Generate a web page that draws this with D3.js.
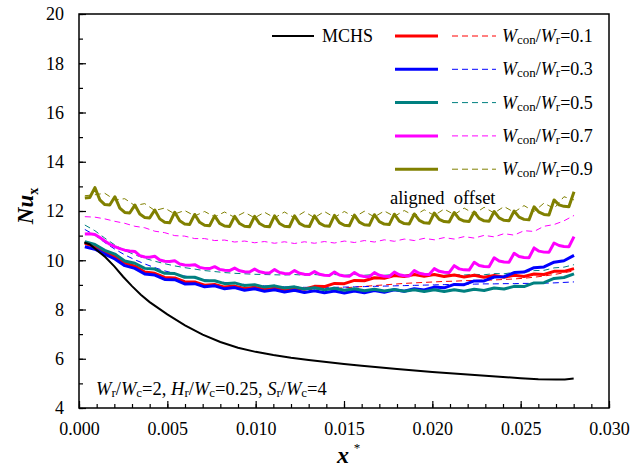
<!DOCTYPE html>
<html>
<head>
<meta charset="utf-8">
<script src="https://cdn.jsdelivr.net/npm/d3@7"></script>
<style>
  body { margin: 0; background: #fff; }
  svg text { font-family: 'Liberation Serif', 'Times New Roman', Times, 'DejaVu Serif', serif; }
</style>
</head>
<body>
<script>
// sample positions (x*) of the wavy curves
var xQ = [0.00033,0.00061,0.00090,0.00118,0.00146,0.00174,0.00203,0.00231,0.00259,0.00287,
  0.00316,0.00344,0.00372,0.00400,0.00429,0.00457,0.00485,0.00513,0.00542,0.00570,
  0.00598,0.00626,0.00655,0.00683,0.00711,0.00739,0.00768,0.00796,0.00824,0.00852,
  0.00881,0.00909,0.00937,0.00965,0.00994,0.01022,0.01050,0.01078,0.01107,0.01135,
  0.01163,0.01191,0.01220,0.01248,0.01276,0.01304,0.01333,0.01361,0.01389,0.01417,
  0.01446,0.01474,0.01502,0.01530,0.01559,0.01587,0.01615,0.01643,0.01672,0.01700,
  0.01728,0.01756,0.01785,0.01813,0.01841,0.01869,0.01898,0.01926,0.01954,0.01982,
  0.02011,0.02039,0.02067,0.02095,0.02124,0.02152,0.02180,0.02208,0.02237,0.02265,
  0.02293,0.02321,0.02350,0.02378,0.02406,0.02434,0.02463,0.02491,0.02519,0.02547,
  0.02576,0.02604,0.02632,0.02660,0.02689,0.02717,0.02745,0.02773,0.02802];
// every other point of xQ
var xH = xQ.filter(function(d, i) { return i % 2 == 0; });

// MCHS (smooth)
var xMchs = [0.0003,0.0006,0.001,0.0015,0.002,0.0025,0.003,0.0035,0.004,0.005,
  0.006,0.007,0.008,0.009,0.010,0.011,0.012,0.013,0.014,0.015,
  0.016,0.018,0.020,0.022,0.024,0.025,0.026,0.027,0.0275,0.028];
var nuMchs = [10.72,10.65,10.42,10.12,9.75,9.33,8.95,8.6,8.3,7.8,
  7.36,6.98,6.68,6.45,6.28,6.15,6.04,5.95,5.87,5.79,
  5.72,5.58,5.46,5.36,5.26,5.21,5.17,5.16,5.16,5.2];

// aligned (solid) Wcon/Wr = 0.9 and 0.7, on xQ
var alignOlive = [12.53,12.55,
  12.95,12.45,12.26,12.24, 12.58,12.12,11.94,11.92, 12.24,11.88,11.74,11.72,
  12.04,11.68,11.54,11.52, 11.95,11.60,11.47,11.45, 11.86,11.54,11.42,11.40,
  11.80,11.50,11.39,11.37, 11.78,11.49,11.38,11.36, 11.78,11.49,11.38,11.36,
  11.80,11.49,11.38,11.36, 11.80,11.50,11.39,11.37, 11.80,11.51,11.40,11.38,
  11.82,11.53,11.42,11.40, 11.83,11.55,11.44,11.42, 11.85,11.57,11.47,11.45,
  11.87,11.59,11.49,11.47, 11.88,11.62,11.52,11.50, 11.92,11.66,11.57,11.55,
  11.94,11.68,11.59,11.57, 11.96,11.70,11.60,11.58, 11.98,11.72,11.62,11.60,
  12.00,11.75,11.66,11.64, 12.17,11.95,11.86,11.84, 12.45,12.25,12.19,12.17,
  12.78];
var alignMagenta = [11.07,11.08,
  11.05,10.92,10.78,10.65, 10.55,10.47,10.41,10.38, 10.36,10.19,10.13,10.12,
  10.16,10.01,9.96,9.95, 9.98,9.85,9.81,9.80, 9.82,9.71,9.67,9.66,
  9.74,9.63,9.59,9.58, 9.68,9.57,9.53,9.52, 9.64,9.53,9.49,9.48,
  9.62,9.50,9.46,9.45, 9.58,9.47,9.43,9.42, 9.54,9.43,9.39,9.38,
  9.52,9.40,9.36,9.35, 9.50,9.38,9.34,9.33, 9.50,9.39,9.35,9.34,
  9.52,9.41,9.37,9.36, 9.58,9.47,9.43,9.42, 9.66,9.55,9.51,9.50,
  9.78,9.65,9.61,9.60, 9.92,9.79,9.75,9.74, 10.10,9.97,9.93,9.92,
  10.28,10.15,10.11,10.10, 10.50,10.37,10.33,10.32, 10.70,10.60,10.56,10.55,
  10.96];

// aligned (solid) Wcon/Wr = 0.1, 0.3, 0.5, on xH
var alignRed = [10.69,10.55,10.35,10.14,9.89,9.76,9.52,9.47,9.30,9.28,
  9.13,9.12,8.99,9.02,8.91,8.95,8.85,8.90,8.81,8.86,
  8.78,8.86,8.82,8.94,8.93,9.06,9.05,9.18,9.17,9.29,
  9.27,9.38,9.34,9.42,9.35,9.42,9.34,9.40,9.32,9.39,
  9.31,9.38,9.31,9.39,9.34,9.44,9.42,9.55,9.55,9.66];
var alignBlue = [10.55,10.45,10.25,10.05,9.78,9.67,9.44,9.40,9.22,9.21,
  9.04,9.05,8.92,8.96,8.84,8.89,8.78,8.84,8.74,8.80,
  8.71,8.78,8.69,8.76,8.68,8.75,8.67,8.75,8.68,8.77,
  8.70,8.80,8.74,8.84,8.79,8.91,8.88,9.02,9.01,9.16,
  9.16,9.32,9.33,9.50,9.52,9.70,9.73,9.92,9.98,10.20];
var alignTeal = [10.75,10.64,10.40,10.25,9.97,9.88,9.67,9.64,9.47,9.46,
  9.31,9.31,9.17,9.17,9.05,9.08,8.97,9.01,8.91,8.96,
  8.87,8.92,8.83,8.88,8.80,8.86,8.78,8.84,8.76,8.82,
  8.75,8.81,8.74,8.80,8.73,8.80,8.73,8.80,8.74,8.82,
  8.77,8.87,8.83,8.94,8.93,9.08,9.09,9.26,9.30,9.45];

// offset (dashed), on xH
var offRed = [10.72,10.55,10.30,10.08,9.88,9.70,9.55,9.42,9.32,9.22,
  9.13,9.06,9.00,8.95,8.91,8.88,8.85,8.83,8.81,8.80,
  8.80,8.80,8.81,8.82,8.84,8.86,8.88,8.91,8.94,8.97,
  9.00,9.03,9.06,9.08,9.10,9.12,9.14,9.15,9.17,9.18,
  9.19,9.20,9.22,9.24,9.27,9.31,9.36,9.42,9.49,9.57];
var offBlue = [11.25,11.02,10.72,10.45,10.22,10.02,9.85,9.70,9.57,9.46,
  9.36,9.28,9.21,9.15,9.10,9.06,9.02,8.99,8.96,8.94,
  8.92,8.91,8.90,8.90,8.90,8.90,8.91,8.92,8.93,8.94,
  8.95,8.96,8.97,8.98,8.99,9.00,9.01,9.02,9.03,9.03,
  9.04,9.04,9.05,9.05,9.06,9.06,9.07,9.08,9.10,9.12];
var offTeal = [11.43,11.20,10.90,10.62,10.40,10.22,10.08,9.96,9.86,9.77,
  9.70,9.64,9.58,9.54,9.50,9.47,9.45,9.43,9.42,9.41,
  9.40,9.42,9.39,9.42,9.39,9.42,9.39,9.42,9.39,9.42,
  9.39,9.42,9.39,9.42,9.39,9.42,9.39,9.42,9.40,9.43,
  9.41,9.46,9.45,9.51,9.50,9.58,9.59,9.69,9.72,9.82];
var offMagenta = [11.77,11.75,11.68,11.58,11.50,11.38,11.32,11.18,11.12,11.00,
  10.98,10.88,10.88,10.80,10.82,10.74,10.78,10.71,10.76,10.69,
  10.75,10.68,10.75,10.69,10.76,10.70,10.78,10.72,10.80,10.74,
  10.83,10.77,10.86,10.80,10.89,10.83,10.92,10.86,10.96,10.90,
  11.01,10.95,11.08,11.02,11.20,11.17,11.38,11.45,11.60,11.82];
var offOlive = [12.62,12.66,12.72,12.45,12.50,12.22,12.30,12.02,12.12,11.88,
  12.02,11.80,11.98,11.76,11.96,11.74,11.95,11.72,11.95,11.72,
  11.96,11.72,11.97,11.73,11.98,11.74,11.98,11.75,11.99,11.76,
  12.00,11.78,12.02,11.80,12.05,11.82,12.08,11.85,12.12,11.88,
  12.15,11.92,12.18,11.95,12.22,11.98,12.32,12.10,12.58,12.45];

var ratioLabels = ["0.1", "0.3", "0.5", "0.7", "0.9"];
var colors = ["#ff0000", "#0000ff", "#008080", "#ff00ff", "#808000"];
var xTicks = [0, 0.005, 0.010, 0.015, 0.020, 0.025, 0.030];
var yTicks = [4, 6, 8, 10, 12, 14, 16, 18, 20];

var w = 633, h = 471;
var pl = 79, pr = 609, pt = 14, pb = 408;
var serif = "'Liberation Serif', 'Times New Roman', Times, 'DejaVu Serif', serif";

var svg = d3.select("body").append("svg")
  .attr("width", w)
  .attr("height", h)
  .attr("font-family", serif);

svg.append("rect").attr("width", w).attr("height", h).attr("fill", "#fff");

var x = d3.scaleLinear().domain([0, 0.03]).range([pl, pr]);
var y = d3.scaleLinear().domain([4, 20]).range([pb, pt]);

// curves
var line = d3.line()
  .x(function(d) { return x(d[0]); })
  .y(function(d) { return y(d[1]); });

function pairs(xs, ys) {
  return ys.map(function(v, i) { return [xs[i], v]; });
}

var dashed = [offRed, offBlue, offTeal, offMagenta, offOlive];
var solid = [
  [xH, alignRed], [xH, alignBlue], [xH, alignTeal],
  [xQ, alignMagenta], [xQ, alignOlive]
];

var plot = svg.append("g");

dashed.forEach(function(s, i) {
  plot.append("path")
    .attr("d", line(pairs(xH, s)))
    .attr("fill", "none")
    .attr("stroke", colors[i])
    .attr("stroke-width", 1)
    .attr("stroke-dasharray", "6,4");
});

solid.forEach(function(s, i) {
  plot.append("path")
    .attr("d", line(pairs(s[0], s[1])))
    .attr("fill", "none")
    .attr("stroke", colors[i])
    .attr("stroke-width", 3)
    .attr("stroke-linejoin", "round");
});

plot.append("path")
  .attr("d", line(pairs(xMchs, nuMchs)))
  .attr("fill", "none")
  .attr("stroke", "#000")
  .attr("stroke-width", 2);

// axes
var xAxis = d3.axisBottom(x).tickValues(xTicks).tickFormat(d3.format(".3f"))
  .tickSizeInner(-7).tickSizeOuter(0).tickPadding(14);
var xMinor = d3.axisBottom(x).ticks(30).tickFormat("").tickSizeInner(-4).tickSizeOuter(0);
var yAxis = d3.axisLeft(y).tickValues(yTicks).tickFormat(d3.format("d"))
  .tickSizeInner(-7).tickSizeOuter(0).tickPadding(15);
var yMinor = d3.axisLeft(y).ticks(16).tickFormat("").tickSizeInner(-4).tickSizeOuter(0);

[xMinor, xAxis].forEach(function(a) {
  svg.append("g").attr("class", "axis").attr("transform", "translate(0," + pb + ")").call(a);
});
[yMinor, yAxis].forEach(function(a) {
  svg.append("g").attr("class", "axis").attr("transform", "translate(" + pl + ",0)").call(a);
});
svg.selectAll(".axis").attr("font-family", serif);
svg.selectAll(".axis path").remove();
svg.selectAll(".axis line").attr("stroke", "#000").attr("stroke-width", 1.2);
svg.selectAll(".axis text")
  .attr("font-size", 18)
  .attr("fill", "#000");

// frame
svg.append("rect")
  .attr("x", pl).attr("y", pt)
  .attr("width", pr - pl).attr("height", pb - pt)
  .attr("fill", "none").attr("stroke", "#000").attr("stroke-width", 1.5);

// axis titles
var yl = svg.append("text")
  .attr("transform", "translate(33,206) rotate(-90)")
  .attr("text-anchor", "middle")
  .attr("font-weight", "bold")
  .attr("font-size", 23);
yl.append("tspan").attr("font-style", "italic").text("Nu");
yl.append("tspan").attr("font-size", 14).attr("dy", 5).text("x");

var xl = svg.append("text")
  .attr("x", 343).attr("y", 463)
  .attr("text-anchor", "middle")
  .attr("font-weight", "bold")
  .attr("font-style", "italic")
  .attr("font-size", 24);
xl.append("tspan").text("x");
svg.append("text")
  .attr("x", 357).attr("y", 452)
  .attr("text-anchor", "middle")
  .attr("font-size", 13)
  .text("*");

// legend
var lg = svg.append("g").attr("font-size", 18);
lg.append("line")
  .attr("x1", 272).attr("x2", 314).attr("y1", 36).attr("y2", 36)
  .attr("stroke", "#000").attr("stroke-width", 2);
lg.append("text").attr("x", 322).attr("y", 42).text("MCHS");

ratioLabels.forEach(function(r, i) {
  var ly = 36 + i * 33.3;
  lg.append("line")
    .attr("x1", 395).attr("x2", 438).attr("y1", ly).attr("y2", ly)
    .attr("stroke", colors[i]).attr("stroke-width", 3);
  lg.append("line")
    .attr("x1", 452).attr("x2", 496).attr("y1", ly).attr("y2", ly)
    .attr("stroke", colors[i]).attr("stroke-width", 1)
    .attr("stroke-dasharray", "6,4");
  var t = lg.append("text").attr("x", 502).attr("y", ly + 6);
  t.append("tspan").attr("font-style", "italic").text("W");
  t.append("tspan").attr("font-size", 13).attr("dy", 2).text("con");
  t.append("tspan").attr("dy", -2).text("/");
  t.append("tspan").attr("font-style", "italic").text("W");
  t.append("tspan").attr("font-size", 13).attr("dy", 2).text("r");
  t.append("tspan").attr("dy", -2).text("=" + r);
});

svg.append("text")
  .attr("x", 390).attr("y", 204)
  .attr("font-size", 18.5)
  .attr("xml:space", "preserve")
  .text("aligned  offset");

// geometry note
var note = svg.append("text").attr("x", 96).attr("y", 395).attr("font-size", 18.5);
[["W", "r", "/"], ["W", "c", "=2, "], ["H", "r", "/"], ["W", "c", "=0.25, "],
 ["S", "r", "/"], ["W", "c", "=4"]].forEach(function(p) {
  note.append("tspan").attr("font-style", "italic").text(p[0]);
  note.append("tspan").attr("font-size", 13).attr("dy", 2).text(p[1]);
  note.append("tspan").attr("dy", -2).attr("xml:space", "preserve").text(p[2]);
});
</script>
</body>
</html>
